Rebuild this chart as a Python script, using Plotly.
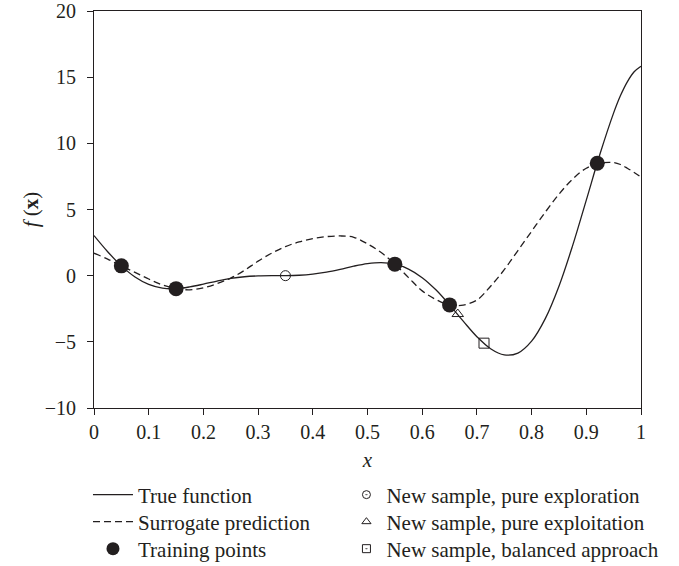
import plotly.graph_objects as go

# ---- data ----
x_grid = [0.0, 0.025, 0.05, 0.075, 0.1, 0.125, 0.15, 0.175, 0.2, 0.225,
          0.25, 0.275, 0.3, 0.325, 0.35, 0.375, 0.4, 0.425, 0.45, 0.475,
          0.5, 0.525, 0.55, 0.575, 0.6, 0.625, 0.65, 0.675, 0.7, 0.725,
          0.75, 0.775, 0.8, 0.825, 0.85, 0.875, 0.9, 0.925, 0.95, 0.9625,
          0.975, 0.9875, 1.0]

true_y = [3.03, 1.81, 0.74, -0.10, -0.66, -0.94, -0.98, -0.85, -0.64, -0.41,
          -0.21, -0.08, -0.02, 0.00, 0.00, 0.03, 0.12, 0.27, 0.48, 0.72,
          0.91, 0.99, 0.87, 0.50, -0.15, -1.07, -2.21, -3.44, -4.61, -5.52,
          -5.99, -5.85, -4.95, -3.25, -0.80, 2.27, 5.71, 9.19, 12.30, 13.61,
          14.65, 15.41, 15.83]

surrogate_y = [1.70, 1.25, 0.74, 0.25, -0.25, -0.70, -0.98, -1.07, -0.92, -0.60,
               -0.18, 0.40, 1.10, 1.70, 2.20, 2.55, 2.80, 2.95, 3.00, 2.90,
               2.40, 1.75, 0.88, -0.15, -1.15, -1.80, -2.21, -2.22, -1.84, -0.80,
               0.45, 1.90, 3.35, 4.80, 6.15, 7.30, 8.12, 8.50, 8.55, 8.40,
               8.12, 7.80, 7.44]

train_x = [0.05, 0.15, 0.55, 0.65, 0.92]
train_y = [0.74, -0.98, 0.87, -2.21, 8.50]

explore_x = [0.35]
explore_y = [0.0]
exploit_x = [0.665]
exploit_y = [-2.90]
balanced_x = [0.713]
balanced_y = [-5.10]

x_ticks = [0, 0.1, 0.2, 0.3, 0.4, 0.5, 0.6, 0.7, 0.8, 0.9, 1]
x_tick_labels = ["0", "0.1", "0.2", "0.3", "0.4", "0.5", "0.6", "0.7", "0.8", "0.9", "1"]
y_ticks = [-10, -5, 0, 5, 10, 15, 20]
y_tick_labels = ["\u221210", "\u22125", "0", "5", "10", "15", "20"]

INK = "#231f20"
FONT = "Liberation Serif"
LEG_SIZE = 21

fig = go.Figure()

fig.add_trace(go.Scatter(x=x_grid, y=true_y, mode="lines", name="True function",
                         line=dict(color=INK, width=1.3, shape="spline"),
                         legend="legend"))
fig.add_trace(go.Scatter(x=x_grid, y=surrogate_y, mode="lines", name="Surrogate prediction",
                         line=dict(color=INK, width=1.3, shape="spline", dash="7px,4px"),
                         legend="legend2"))
fig.add_trace(go.Scatter(x=train_x, y=train_y, mode="markers", showlegend=False,
                         marker=dict(color=INK, size=15, symbol="circle")))

fig.add_trace(go.Scatter(x=explore_x, y=explore_y, mode="markers", showlegend=False,
                         marker=dict(color=INK, size=10, symbol="circle-open", line=dict(width=1))))
fig.add_trace(go.Scatter(x=exploit_x, y=exploit_y, mode="markers", showlegend=False,
                         marker=dict(color=INK, size=10, symbol="triangle-up-open", line=dict(width=1))))
fig.add_trace(go.Scatter(x=balanced_x, y=balanced_y, mode="markers", showlegend=False,
                         marker=dict(color=INK, size=10, symbol="square-open", line=dict(width=1))))

# legend-only entries (symbol sizes as in the reference legend)
fig.add_trace(go.Scatter(x=[None], y=[None], mode="markers", name="Training points",
                         marker=dict(color=INK, size=13, symbol="circle"),
                         legend="legend3"))
fig.add_trace(go.Scatter(x=[None], y=[None], mode="markers", name="New sample, pure exploration",
                         marker=dict(color=INK, size=8, symbol="circle-open-dot", line=dict(width=1)),
                         legend="legend4"))
fig.add_trace(go.Scatter(x=[None], y=[None], mode="markers", name="New sample, pure exploitation",
                         marker=dict(color=INK, size=8, symbol="triangle-up-open", line=dict(width=1)),
                         legend="legend5"))
fig.add_trace(go.Scatter(x=[None], y=[None], mode="markers", name="New sample, balanced approach",
                         marker=dict(color=INK, size=8, symbol="square-open-dot", line=dict(width=1)),
                         legend="legend6"))

axis_common = dict(showgrid=False, zeroline=False, showline=True, linecolor=INK, linewidth=1,
                   mirror=True, ticks="outside", ticklen=6, tickwidth=1, tickcolor=INK,
                   tickfont=dict(family=FONT, size=20, color=INK))


def leg(xp, yp, iw=30):
    return dict(x=xp, y=yp, xanchor="left", yanchor="middle", bgcolor="rgba(0,0,0,0)",
                font=dict(family=FONT, size=LEG_SIZE, color=INK), itemwidth=iw)


row_y = [-0.2191, -0.2872, -0.3552]
left_x = -0.011
right_x = 0.4615

fig.update_layout(
    width=679, height=566,
    margin=dict(l=94, r=38, t=11, b=158, autoexpand=False),
    paper_bgcolor="white", plot_bgcolor="white",
    font=dict(family=FONT, size=20, color=INK),
    xaxis=dict(range=[0, 1], tickvals=x_ticks, ticktext=x_tick_labels,
               title=dict(text="<i>x</i>", font=dict(family=FONT, size=21, color=INK), standoff=10),
               **axis_common),
    yaxis=dict(range=[-10, 20], tickvals=y_ticks, ticktext=y_tick_labels, ticklabelstandoff=7,
               title=dict(text="<i>f</i> (<b>x</b>)", font=dict(family=FONT, size=21, color=INK), standoff=0),
               **axis_common),
    legend=leg(left_x, row_y[0], 40),
    legend2=leg(left_x, row_y[1], 40),
    legend3=leg(left_x, row_y[2], 40),
    legend4=leg(right_x, row_y[0]),
    legend5=leg(right_x, row_y[1]),
    legend6=leg(right_x, row_y[2]),
)

fig.write_html("out.html")
